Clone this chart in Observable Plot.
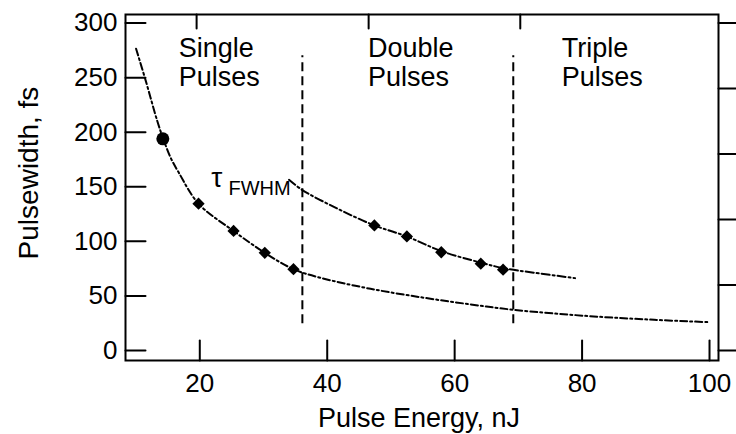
<!DOCTYPE html>
<html>
<head>
<meta charset="utf-8">
<script src="https://cdn.jsdelivr.net/npm/d3@7"></script>
<script src="https://cdn.jsdelivr.net/npm/@observablehq/plot@0.6"></script>
<style>
  html, body { margin: 0; padding: 0; background: #fff; }
  #chart { width: 736px; height: 434px; }
</style>
</head>
<body>
<div id="chart"></div>
<script>
// ---- data ----
const xTickValues = [20, 40, 60, 80, 100];
const yTickValues = [0, 50, 100, 150, 200, 250, 300];
const topTickValues = [19.5, 46.5, 70.3];
const rightTickValues = [0, 60, 120, 180, 240, 300];

// measured points
const circleE = [14.2];
const circleW = [194];
const singleE = [19.8, 25.3, 30.2, 34.7];
const singleW = [134.5, 109.5, 89.5, 74.5];
const doubleE = [47.4, 52.5, 57.9, 64.1, 67.6];
const doubleW = [114.6, 104.5, 90, 79.5, 74];

// fitted curves
const lowerCurveE = [10.0, 11.5, 13.3, 14.2, 15.4, 16.7, 19.8, 25.3, 30.2, 34.7, 39, 46.8, 55.2, 62.5, 69.2, 80.8, 91.3, 100];
const lowerCurveW = [276.5, 247.5, 210.8, 195, 177, 163, 134.5, 109.5, 89.5, 74.5, 66.5, 56.5, 48.3, 42.2, 37.3, 31.6, 28.1, 25.9];
const upperCurveE = [34.0, 36.1, 41.6, 47.4, 52.5, 57.9, 64.1, 67.6, 72.4, 78.9];
const upperCurveW = [156.4, 147, 130, 114.6, 104.5, 91, 80.5, 75.5, 71.3, 66.3];

// regime boundaries
const boundaryE = [36.1, 69.2];
const boundaryW = [24.5, 270];

// labels
const regionLabels = ["Single\nPulses", "Double\nPulses", "Triple\nPulses"];
const regionE = [16.7, 46.4, 76.8];
const regionW = [288, 288, 288];
const tauLabel = ["τ"];
const tauE = [21.8];
const tauW = [149.7];
const subLabel = ["FWHM"];
const subE = [24.5];
const subW = [142.7];
const xTitle = ["Pulse Energy, nJ"];
const yTitle = ["Pulsewidth, fs"];

// ---- tables ----
const zip = (E, W) => E.map((e, i) => ({e, w: W[i]}));
const lowerCurve = zip(lowerCurveE, lowerCurveW);
const upperCurve = zip(upperCurveE, upperCurveW);
const circlePts = zip(circleE, circleW);
const singlePts = zip(singleE, singleW);
const doublePts = zip(doubleE, doubleW);
const regions = regionLabels.map((t, i) => ({t, e: regionE[i], w: regionW[i]}));

const tickShape = {draw(ctx, l) { ctx.moveTo(0, 0); ctx.lineTo(0, -l); }};
const font = "'Liberation Sans', Arial, Helvetica, sans-serif";

const chart = Plot.plot({
  width: 736,
  height: 434,
  marginLeft: 125,
  marginRight: 18,
  marginTop: 14,
  marginBottom: 74,
  x: {domain: [8.34, 101.41]},
  y: {domain: [-9.2, 307.9]},
  style: {fontFamily: font, color: "#000", background: "#fff", overflow: "visible"},
  marks: [
    Plot.frame({stroke: "#000", strokeWidth: 2}),
    // inward / outward tick marks
    Plot.vector(yTickValues, {y: d => d, frameAnchor: "left", length: 20, rotate: 90, anchor: "start", shape: tickShape, stroke: "#000", strokeWidth: 2}),
    Plot.vector(xTickValues, {x: d => d, frameAnchor: "bottom", length: 20, rotate: 0, anchor: "start", shape: tickShape, stroke: "#000", strokeWidth: 2}),
    Plot.vector(topTickValues, {x: d => d, frameAnchor: "top", length: 14, rotate: 180, anchor: "start", shape: tickShape, stroke: "#000", strokeWidth: 2}),
    Plot.vector(rightTickValues, {y: d => d, frameAnchor: "right", length: 20, rotate: 90, anchor: "start", shape: tickShape, stroke: "#000", strokeWidth: 2}),
    // tick labels
    Plot.axisX(xTickValues, {anchor: "bottom", tickSize: 0, tickPadding: 12.7, fontSize: 26, label: null}),
    Plot.axisY(yTickValues, {anchor: "left", tickSize: 0, tickPadding: 8, fontSize: 26, label: null}),
    // axis titles
    Plot.text(xTitle, {frameAnchor: "bottom", dy: 47.3, dx: -3, textAnchor: "middle", lineAnchor: "top", fontSize: 27, fill: "#000"}),
    Plot.text(yTitle, {frameAnchor: "left", rotate: -90, dx: -88, dy: -14.5, textAnchor: "middle", lineAnchor: "bottom", fontSize: 28, fill: "#000"}),
    // regime boundaries
    Plot.ruleX(boundaryE, {x: d => d, y1: boundaryW[0], y2: boundaryW[1], stroke: "#000", strokeWidth: 2, strokeDasharray: "9,5"}),
    // fit curves
    Plot.line(lowerCurve, {x: "e", y: "w", curve: "catmull-rom", stroke: "#000", strokeWidth: 2, strokeDasharray: "7,3,2,3"}),
    Plot.line(upperCurve, {x: "e", y: "w", curve: "catmull-rom", stroke: "#000", strokeWidth: 2, strokeDasharray: "8,3,2,3"}),
    // measured points
    Plot.dot(circlePts, {x: "e", y: "w", r: 6.5, fill: "#000", stroke: "none"}),
    Plot.dot(singlePts, {x: "e", y: "w", symbol: "square", rotate: 45, r: 4.9, fill: "#000", stroke: "none"}),
    Plot.dot(doublePts, {x: "e", y: "w", symbol: "square", rotate: 45, r: 4.9, fill: "#000", stroke: "none"}),
    // region labels
    Plot.text(regions, {x: "e", y: "w", text: "t", textAnchor: "start", lineAnchor: "top", lineHeight: 1.085, fontSize: 27, fill: "#000"}),
    // tau_FWHM label
    Plot.text(tauLabel, {x: () => tauE[0], y: () => tauW[0], text: d => d, textAnchor: "start", lineAnchor: "bottom", fontSize: 28, fill: "#000"}),
    Plot.text(subLabel, {x: () => subE[0], y: () => subW[0], text: d => d, textAnchor: "start", lineAnchor: "bottom", fontSize: 20, fill: "#000"})
  ]
});
document.getElementById("chart").appendChild(chart);
</script>
</body>
</html>
